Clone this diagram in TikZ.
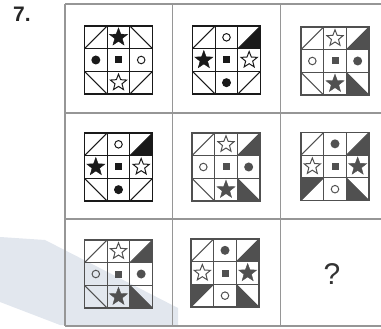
\documentclass[tikz,border=0pt]{standalone}
\usepackage{fontspec}
\newfontfamily\lsans{Liberation Sans}
\usetikzlibrary{shapes.geometric}
\definecolor{gridgray}{RGB}{150,150,150}
\definecolor{inkA}{RGB}{25,25,25}
\definecolor{inkB}{RGB}{80,80,80}
\definecolor{smear}{RGB}{190,202,218}
\colorlet{ink}{inkA}
\tikzset{
  fstar/.style={star, star points=5, star point ratio=2.4, minimum size=19pt, inner sep=0pt, fill=ink, draw=ink, line width=0.4pt},
  ostar/.style={star, star points=5, star point ratio=2.3, minimum size=17pt, inner sep=0pt, draw=ink, line width=1pt},
  fdot/.style={circle, minimum size=9pt, inner sep=0pt, fill=ink},
  odot/.style={circle, minimum size=7.5pt, inner sep=0pt, draw=ink, line width=1pt},
  csq/.style={rectangle, minimum size=7pt, inner sep=0pt, fill=ink},
  gridline/.style={draw=gridgray, line width=1.5pt},
  diag/.style={draw=ink, line width=1pt},
}
% corner pieces (box from -34 to 34, cell edges at +-11.33; y grows downward)
\newcommand\pTL{\draw[diag] (-34,-11.33) -- (-11.33,-34);}
\newcommand\pTRa{\draw[diag] (11.33,-34) -- (34,-11.33);}
\newcommand\pTRb{\fill[ink] (11.33,-11.33) -- (34,-34) -- (34,-11.33) -- cycle;
  \draw[diag] (11.33,-11.33) -- (34,-34);}
\newcommand\pBLa{\draw[diag] (-34,11.33) -- (-11.33,34);}
\newcommand\pBLb{\fill[ink] (-34,34) -- (-11.33,11.33) -- (-34,11.33) -- cycle;
  \draw[diag] (-34,34) -- (-11.33,11.33);}
\newcommand\pBRa{\draw[diag] (11.33,34) -- (34,11.33);}
\newcommand\pBRb{\fill[ink] (11.33,11.33) -- (34,34) -- (11.33,34) -- cycle;
  \draw[diag] (11.33,11.33) -- (34,34);}
% #1 id, #2 centre, #3 colour, #4 corners, #5 top, #6 left, #7 right, #8 bottom
\newcommand\pbox[8]{%
  \begin{scope}[shift={#2}]
    \colorlet{ink}{#3}
    \pTL #4
    \draw[draw=ink, line width=1.2pt] (-11.33,-34) -- (-11.33,34) (11.33,-34) -- (11.33,34)
      (-34,-11.33) -- (34,-11.33) (-34,11.33) -- (34,11.33);
    \draw[draw=ink, line width=1.8pt] (-34,-34) rectangle (34,34);
    \node[#5] (#1t) at (0,-22.67) {};
    \node[#6] (#1l) at (-22.67,0) {};
    \node[#7] (#1r) at (22.67,0) {};
    \node[#8] (#1b) at (0,22.67) {};
    \node[csq] (#1c) at (0,0) {};
  \end{scope}}
\begin{document}
\begin{tikzpicture}[x=1pt,y=-1pt]
  \useasboundingbox (0,0) rectangle (381,329);
  % scan smear
  \fill[smear, opacity=0.45] (0,237) -- (45,240) -- (178,308) -- (178,325) -- (60,325) -- (0,302) -- cycle;
  % table grid
  \draw[gridline] (65,4) -- (381,4) (65,113) -- (381,113) (65,219) -- (381,219) (65,326) -- (381,326);
  \draw[gridline] (65,4) -- (65,326) (172.5,4) -- (172.5,326) (280.5,4) -- (280.5,326);
  % label
  \node[font=\lsans\bfseries\fontsize{21}{21}\selectfont, text=black!85, inner sep=0pt] (num) at (22,14) {7.};
  % boxes
  \pbox{a}{(118.5,60)}{inkA}{\pTRa\pBLa\pBRa}{fstar}{fdot}{odot}{ostar}
  \pbox{b}{(226.5,60)}{inkA}{\pTRb\pBLa\pBRa}{odot}{fstar}{ostar}{fdot}
  \pbox{c}{(335,61)}{inkB}{\pTRb\pBLa\pBRb}{ostar}{odot}{fdot}{fstar}
  \pbox{d}{(118.5,167)}{inkA}{\pTRb\pBLa\pBRa}{odot}{fstar}{ostar}{fdot}
  \pbox{e}{(226,167)}{inkB}{\pTRb\pBLa\pBRb}{ostar}{odot}{fdot}{fstar}
  \pbox{f}{(335,166.5)}{inkB}{\pTRb\pBLb\pBRb}{fdot}{ostar}{fstar}{odot}
  \pbox{g}{(118.5,274)}{inkB}{\pTRb\pBLa\pBRb}{ostar}{odot}{fdot}{fstar}
  \pbox{h}{(225,273)}{inkB}{\pTRb\pBLb\pBRb}{fdot}{ostar}{fstar}{odot}
  \node[font=\lsans\fontsize{30}{30}\selectfont, text=black!80, inner sep=0pt] (q) at (332,274.5) {?};
\end{tikzpicture}
\end{document}
